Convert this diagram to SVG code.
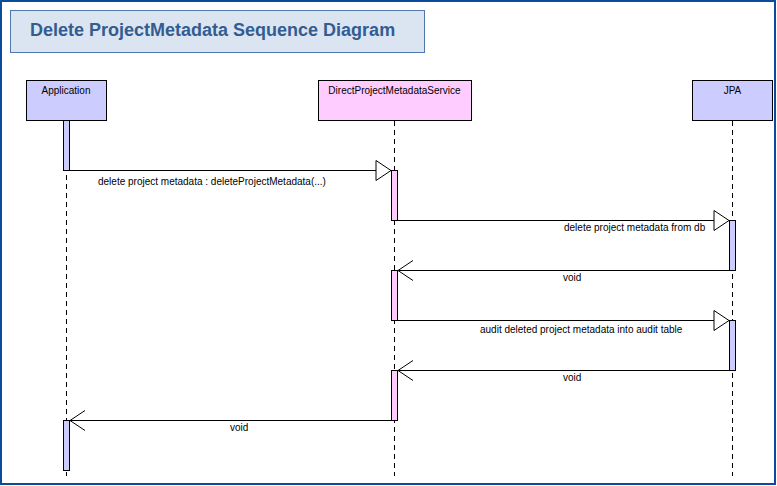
<svg xmlns="http://www.w3.org/2000/svg" width="777" height="486" viewBox="0 0 777 486">
<style>
text{font-family:"Liberation Sans",Arial,sans-serif;fill:#000}
.lbl{font-size:10px}
.title{font-size:18px;font-weight:bold;fill:#335c91}
.box{stroke:#000;stroke-width:1}
.blue{fill:#ccccff}
.pink{fill:#ffccff}
.life{stroke:#000;stroke-width:1;stroke-dasharray:5,4;fill:none}
.msg{stroke:#000;stroke-width:1;fill:none}
.head{stroke:#000;stroke-width:1;fill:#fff}
</style>
<rect x="0" y="0" width="777" height="486" fill="#fff"/>
<rect x="1" y="1" width="774" height="483" fill="none" stroke="#0b4a9c" stroke-width="2"/>
<g id="title">
<rect x="10.5" y="10.5" width="414" height="42" fill="#dbe5f1" stroke="#4f79ad" stroke-width="1"/>
<text class="title" x="30" y="36">Delete ProjectMetadata Sequence Diagram</text>
</g>
<g id="lifelines">
<line class="life" x1="66.5" y1="121" x2="66.5" y2="476"/>
<line class="life" x1="394.5" y1="121" x2="394.5" y2="476"/>
<line class="life" x1="732.5" y1="121" x2="732.5" y2="476"/>
</g>
<g id="application">
<rect class="box blue" x="26.5" y="80.5" width="80" height="40"/>
<text class="lbl" x="66" y="94" text-anchor="middle">Application</text>
<rect class="box blue" x="63.5" y="120.5" width="6" height="50"/>
<rect class="box blue" x="63.5" y="420.5" width="6" height="50"/>
</g>
<g id="service">
<rect class="box pink" x="318.5" y="80.5" width="153" height="40"/>
<text class="lbl" x="394.5" y="94" text-anchor="middle">DirectProjectMetadataService</text>
<rect class="box pink" x="391.5" y="170.5" width="6" height="50"/>
<rect class="box pink" x="391.5" y="270.5" width="6" height="50"/>
<rect class="box pink" x="391.5" y="370.5" width="6" height="50"/>
</g>
<g id="jpa">
<rect class="box blue" x="692.5" y="80.5" width="80" height="40"/>
<text class="lbl" x="732.5" y="94" text-anchor="middle">JPA</text>
<rect class="box blue" x="729.5" y="220.5" width="6" height="50"/>
<rect class="box blue" x="729.5" y="320.5" width="6" height="50"/>
</g>
<g id="connectors">
<line class="msg" x1="69.5" y1="170.5" x2="376" y2="170.5"/>
<polygon class="head" points="391,170.5 376,160.5 376,180.5"/>
<text class="lbl" x="98" y="185">delete project metadata : deleteProjectMetadata(...)</text>
<line class="msg" x1="397.5" y1="220.5" x2="714" y2="220.5"/>
<polygon class="head" points="729,220.5 714,210.5 714,230.5"/>
<text class="lbl" x="564" y="231">delete project metadata from db</text>
<line class="msg" x1="729.5" y1="270.5" x2="398" y2="270.5"/>
<polyline class="msg" points="413,260.5 398,270.5 413,280.5"/>
<text class="lbl" x="563" y="281">void</text>
<line class="msg" x1="397.5" y1="320.5" x2="714" y2="320.5"/>
<polygon class="head" points="729,320.5 714,310.5 714,330.5"/>
<text class="lbl" x="480" y="333">audit deleted project metadata into audit table</text>
<line class="msg" x1="729.5" y1="370.5" x2="398" y2="370.5"/>
<polyline class="msg" points="413,360.5 398,370.5 413,380.5"/>
<text class="lbl" x="563" y="381">void</text>
<line class="msg" x1="391.5" y1="420.5" x2="70" y2="420.5"/>
<polyline class="msg" points="85,410.5 70,420.5 85,430.5"/>
<text class="lbl" x="230" y="431">void</text>
</g>
</svg>
